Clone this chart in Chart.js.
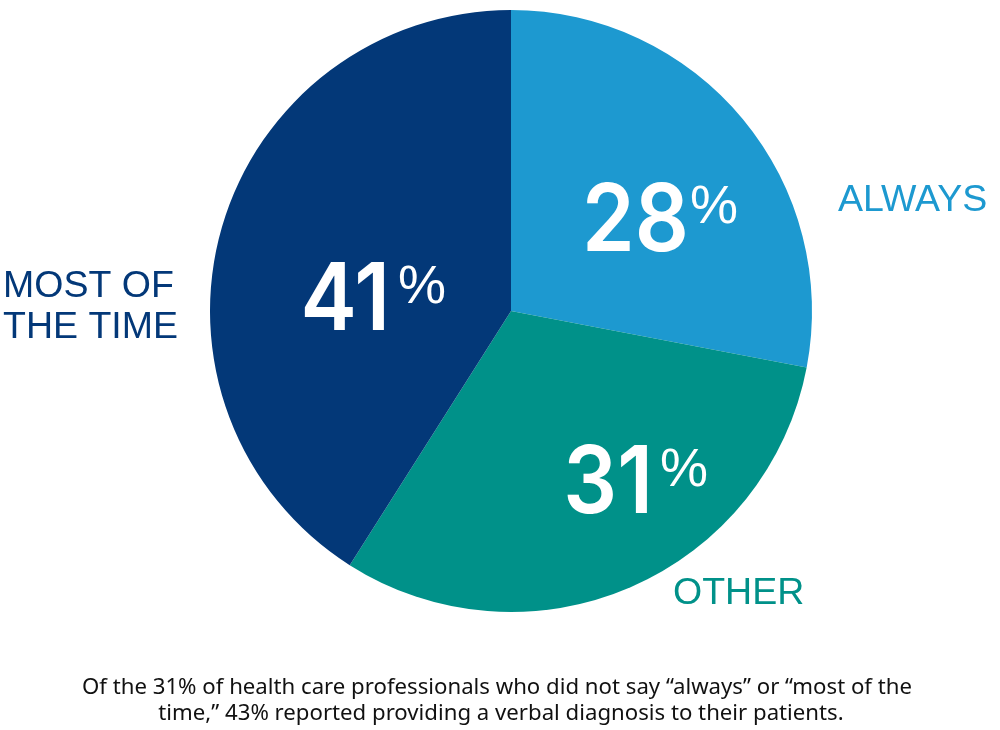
<!DOCTYPE html>
<html>
<head>
<meta charset="utf-8">
<script src="https://cdn.jsdelivr.net/npm/chart.js@4"></script>
<style>
  body { margin: 0; background: #fff; }
  #wrap { width: 1000px; height: 730px; }
</style>
</head>
<body>
<div id="wrap"><canvas id="grafico" width="1000" height="730"></canvas></div>
<script>
// dados
const categorias = ['ALWAYS', 'OTHER', 'MOST OF THE TIME'];
const valores = [28, 31, 41];
const rotulos = [['ALWAYS'], ['OTHER'], ['MOST OF', 'THE TIME']];
const legenda = [
  'Of the 31% of health care professionals who did not say \u201calways\u201d or \u201cmost of the',
  'time,\u201d 43% reported providing a verbal diagnosis to their patients.'
];

const cores = ['#1d99d0', '#009189', '#033878'];

// posições dos textos, relativas ao centro da pizza
const posNumero = [
  { x: 178, y: -60, px: 179, py: -88 },
  { x: 142, y: 202, px: 149, py: 175 },
  { x: -121, y: 19, px: -113, py: -8 }
];
const posRotulo = [{ x: 327, y: -100 }, { x: 162, y: 293 }, { x: -508, y: -14 }];

const textos = {
  id: 'textos',
  afterDraw(chart) {
    const ctx = chart.ctx;
    const arc = chart.getDatasetMeta(0).data[0];
    const cx = arc.x, cy = arc.y;
    ctx.save();
    ctx.textBaseline = 'alphabetic';
    valores.forEach((v, i) => {
      const p = posNumero[i];
      ctx.fillStyle = '#fff';
      ctx.save();
      ctx.translate(cx + p.x, cy + p.y);
      ctx.scale(0.91, 1);
      ctx.textAlign = 'right';
      ctx.font = '600 93px Inter, "Liberation Sans", sans-serif';
      ctx.fillText(String(v), 0, 0);
      ctx.restore();
      ctx.textAlign = 'left';
      ctx.font = '54px "Liberation Sans", Arial, sans-serif';
      ctx.fillText('%', cx + p.px, cy + p.py);

      const r = posRotulo[i];
      ctx.fillStyle = cores[i];
      ctx.font = '37.5px "Liberation Sans", Arial, sans-serif';
      rotulos[i].forEach((linha, j) => {
        ctx.fillText(linha, cx + r.x, cy + r.y + j * 41);
      });
    });

    // texto de baixo
    ctx.fillStyle = '#111';
    ctx.font = '21px "Noto Sans", sans-serif';
    ctx.textAlign = 'center';
    const sx = 830 / ctx.measureText(legenda[0]).width;
    ctx.translate(497, 0);
    ctx.scale(sx, 1);
    ctx.fillText(legenda[0], 0, 694);
    ctx.fillText(legenda[1], 4 / sx, 720);
    ctx.restore();
  }
};

new Chart(document.getElementById('grafico'), {
  type: 'pie',
  data: {
    labels: categorias,
    datasets: [{
      data: valores,
      backgroundColor: cores,
      borderWidth: 0
    }]
  },
  options: {
    responsive: false,
    animation: false,
    layout: { padding: { left: 210, top: 10, right: 188, bottom: 118 } },
    plugins: {
      legend: { display: false },
      tooltip: { enabled: false }
    }
  },
  plugins: [textos]
});
</script>
</body>
</html>
